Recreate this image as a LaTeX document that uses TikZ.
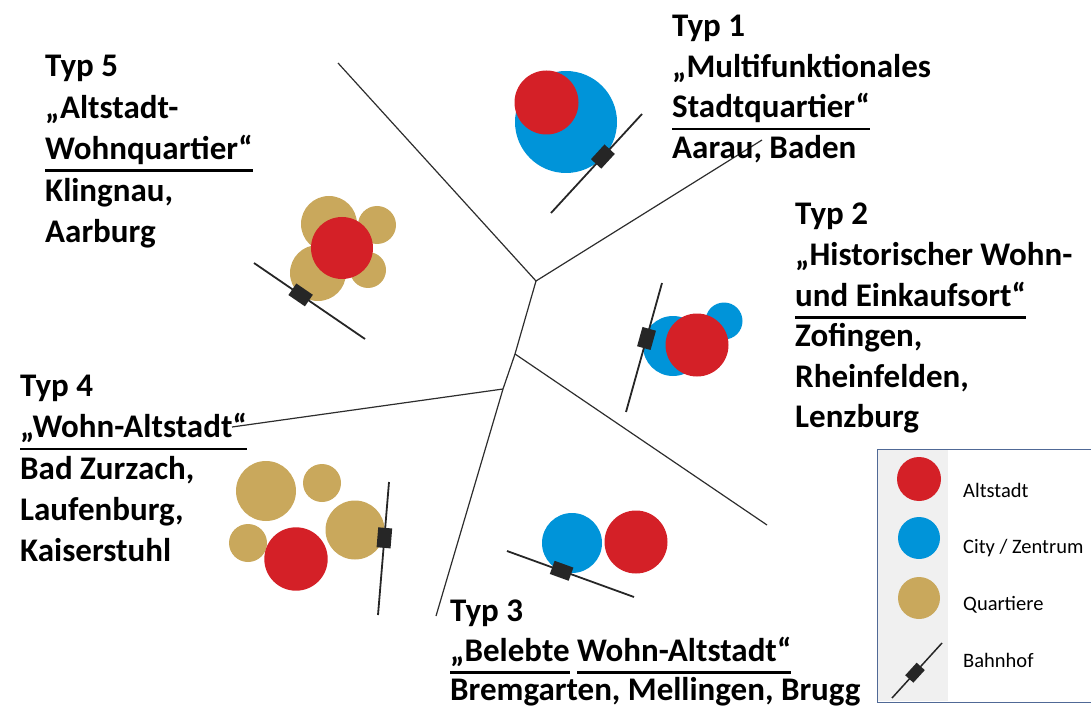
\documentclass[tikz,border=0pt]{standalone}
\usepackage{fontspec}
\setmainfont{Carlito}
\definecolor{altred}{RGB}{212,32,39}
\definecolor{cityblue}{RGB}{0,148,217}
\definecolor{qtan}{RGB}{201,168,92}
\definecolor{legborder}{RGB}{80,105,150}
\definecolor{leggray}{RGB}{240,240,240}
\definecolor{treegray}{RGB}{45,45,45}
\newsavebox\ulbox
\newcommand\ulin[1]{\sbox\ulbox{#1}\rlap{\rule[-12.5pt]{\wd\ulbox}{2.8pt}}\usebox\ulbox}
\tikzset{
  tree/.style={draw=treegray, line width=1.2pt},
  rail/.style={draw=black!85, line width=1.8pt},
  station/.style={fill=black!85, minimum width=20pt, minimum height=14pt, inner sep=0pt, sloped, draw=none},
  smallstation/.style={fill=black!85, minimum width=17pt, minimum height=11pt, inner sep=0pt, sloped, draw=none},
  typtext/.style={anchor=north west, inner sep=0pt, align=left, font=\fontsize{33}{40.6}\selectfont\bfseries},
  legtext/.style={anchor=base west, inner sep=0pt, font=\fontsize{20.5}{24}\selectfont},
}
\begin{document}
\begin{tikzpicture}[x=1pt,y=-1pt]
\useasboundingbox (0,0) rectangle (1091,708);

% ---- tree ----
\coordinate (A) at (536,281);
\coordinate (B) at (515,354);
\coordinate (C) at (503,389);
\coordinate (tl) at (338,63);
\coordinate (tr) at (762,140);
\coordinate (rr) at (767,525);
\coordinate (ll) at (232,427);
\coordinate (bb) at (436,616);
\draw[tree] (tl) -- (A) -- (tr);
\draw[tree] (A) -- (B) -- (C) -- (bb);
\draw[tree] (B) -- (rr);
\draw[tree] (C) -- (ll);

% ---- Typ 1 ----
\fill[cityblue] (566,122) circle (51pt);
\fill[altred] (546.5,102.5) circle (32pt);
\coordinate (r1a) at (551,213);
\coordinate (r1b) at (642,114);
\draw[rail] (r1a) -- node[station, pos=0.57] (s1) {} (r1b);

% ---- Typ 5 ----
\fill[qtan] (329,224) circle (28pt);
\fill[qtan] (377,225) circle (19pt);
\fill[qtan] (368,270) circle (18pt);
\fill[qtan] (318,273) circle (28pt);
\fill[altred] (342,248) circle (31pt);
\coordinate (r5a) at (254,263);
\coordinate (r5b) at (365,339);
\draw[rail] (r5a) -- node[station, pos=0.42] (s5) {} (r5b);

% ---- Typ 2 ----
\fill[cityblue] (673,346) circle (30pt);
\fill[cityblue] (724,321) circle (18.5pt);
\fill[altred] (697,345) circle (31.5pt);
\coordinate (r2a) at (662,283);
\coordinate (r2b) at (626,412);
\draw[rail] (r2a) -- node[station, pos=0.43] (s2) {} (r2b);

% ---- Typ 4 ----
\fill[qtan] (266,491) circle (30pt);
\fill[qtan] (322,483) circle (19pt);
\fill[qtan] (355,530) circle (29.5pt);
\fill[qtan] (248,543) circle (19pt);
\fill[altred] (296,559) circle (31.7pt);
\coordinate (r4a) at (389,482);
\coordinate (r4b) at (378,615);
\draw[rail] (r4a) -- node[station, pos=0.42] (s4) {} (r4b);

% ---- Typ 3 ----
\fill[cityblue] (572,543) circle (30pt);
\fill[altred] (636,542) circle (31.5pt);
\coordinate (r3a) at (507,551);
\coordinate (r3b) at (634,597);
\draw[rail] (r3a) -- node[station, pos=0.43] (s3) {} (r3b);

% ---- texts ----
\begin{scope}
\clip (660,0) rectangle (932,180);
\node[typtext] (t1) at (672,15) {Typ 1\\„Multifunktionales\\\ulin{Stadtquartier“}\\Aarau, Baden};
\end{scope}
\node[typtext, font=\fontsize{33}{41.5}\selectfont\bfseries] (t5) at (45,55) {Typ 5\\„Altstadt-\\\ulin{Wohnquartier“}\\Klingnau,\\Aarburg};
\node[typtext] (t2) at (795,203) {Typ 2\\„Historischer Wohn-\\\ulin{und Einkaufsort“}\\Zofingen,\\Rheinfelden,\\Lenzburg};
\node[typtext, font=\fontsize{33}{41.2}\selectfont\bfseries] (t4) at (20,375) {Typ 4\\\ulin{„Wohn-Altstadt“}\\Bad Zurzach,\\Laufenburg,\\Kaiserstuhl};
\node[typtext, font=\fontsize{33}{39.5}\selectfont\bfseries] (t3) at (450,600) {Typ 3\\\ulin{„Belebte}\ \ulin{Wohn-Altstadt“}\\Bremgarten, Mellingen, Brugg};

% ---- legend ----
\fill[white] (877,449) rectangle (1091,702);
\fill[leggray] (878,450) rectangle (948,701);
\draw[legborder, line width=1pt] (1092,449) -- (877,449) -- (877,702) -- (1092,702);
\fill[altred] (919,479) circle (22pt);
\fill[cityblue] (919,538) circle (21pt);
\fill[qtan] (919,598) circle (21pt);
\coordinate (rla) at (892,698);
\coordinate (rlb) at (942,643);
\draw[rail, line width=1.5pt] (rla) -- node[smallstation, pos=0.46] (sl) {} (rlb);
\node[legtext] (l1) at (963,497) {Altstadt};
\node[legtext] (l2) at (963,553) {City / Zentrum};
\node[legtext] (l3) at (963,610) {Quartiere};
\node[legtext] (l4) at (963,667) {Bahnhof};
\end{tikzpicture}
\end{document}
